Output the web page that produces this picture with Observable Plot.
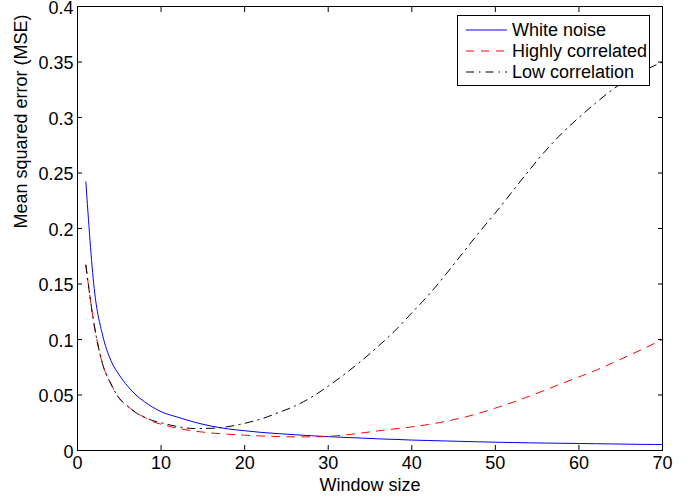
<!DOCTYPE html>
<html>
<head>
<meta charset="utf-8">
<script src="https://cdn.jsdelivr.net/npm/d3@7"></script>
<script src="https://cdn.jsdelivr.net/npm/@observablehq/plot@0.6"></script>
<style>
  body { margin: 0; background: #fff; }
  #wrap { position: relative; width: 697px; height: 502px; font-family: "Liberation Sans", Arial, Helvetica, sans-serif; }
  #legend { position: absolute; left: 457px; top: 15px; width: 191px; height: 69px; border: 1px solid #000; background: #fff; font-size: 18px; color: #000; }
  #legend .row { position: absolute; left: 0; height: 20px; display: flex; align-items: center; }
  #legend svg { margin-left: 8px; margin-right: 5px; }
</style>
</head>
<body>
<div id="wrap">
  <div id="chart"></div>
  <div id="legend"></div>
</div>
<script>
// ---- data ----
const windowSize = [1,2,3,4,5,6,7,8,9,10,12,14,16,18,20,22,24,26,28,30,32,34,36,38,40,42,44,46,48,50,52,54,56,58,60,62,64,66,68,70];
const whiteNoise = [0.242,0.146,0.104,0.081,0.068,0.058,0.050,0.044,0.039,0.035,0.030,0.0255,0.022,0.0195,0.0178,0.0163,0.0152,0.0142,0.0133,0.0125,0.0118,0.0112,0.0105,0.0100,0.0094,0.0090,0.0086,0.0082,0.0078,0.0075,0.0072,0.0069,0.0067,0.0065,0.0063,0.0061,0.0059,0.0057,0.0055,0.0054];
const highlyCorrelated = [0.167,0.113,0.078,0.060,0.047,0.040,0.034,0.030,0.026,0.0237,0.020,0.0175,0.0158,0.0147,0.0138,0.0131,0.0126,0.0123,0.0123,0.0127,0.0140,0.0158,0.0177,0.0195,0.0213,0.0234,0.0262,0.0294,0.0335,0.0382,0.0432,0.0487,0.0545,0.0605,0.0663,0.0722,0.0788,0.0857,0.0927,0.100];
const lowCorrelation = [0.167,0.113,0.078,0.060,0.047,0.040,0.034,0.030,0.027,0.025,0.0215,0.0198,0.0200,0.0215,0.0245,0.0285,0.034,0.040,0.048,0.058,0.069,0.081,0.094,0.108,0.124,0.140,0.158,0.177,0.196,0.214,0.233,0.252,0.270,0.286,0.300,0.313,0.325,0.335,0.343,0.350];
const seriesNames = ["White noise", "Highly correlated", "Low correlation"];
const xTicks = [0,10,20,30,40,50,60,70];
const yTicks = [0,0.05,0.1,0.15,0.2,0.25,0.3,0.35,0.4];
const xLabel = "Window size";
const yLabel = "Mean squared error (MSE)";

const styles = [
  {stroke: "#0000ff", dash: null},
  {stroke: "#ff0000", dash: "8,7"},
  {stroke: "#000000", dash: "8,5,1.5,5"}
];
const seriesValues = [whiteNoise, highlyCorrelated, lowCorrelation];
const tables = seriesValues.map(vals => windowSize.map((w, i) => ({w, v: vals[i]})));

const chart = Plot.plot({
  width: 697,
  height: 502,
  marginLeft: 77,
  marginRight: 35,
  marginTop: 6,
  marginBottom: 52,
  style: {fontSize: "18px", fontFamily: "'Liberation Sans', Arial, Helvetica, sans-serif", color: "#000", background: "#fff"},
  x: {domain: [0, 70]},
  y: {domain: [0, 0.4]},
  marks: [
    Plot.axisX({anchor: "bottom", ticks: xTicks, tickSize: -5, tickPadding: 11, tickFormat: d => String(d), label: null}),
    Plot.axisX({anchor: "top", ticks: xTicks, tickSize: -5, tickFormat: () => "", label: null}),
    Plot.axisY({anchor: "left", ticks: yTicks, tickSize: -5, tickFormat: () => "", label: null}),
    Plot.axisY({anchor: "left", ticks: yTicks, tickSize: 0, tickPadding: 4, dy: 1.5, tickFormat: d => String(d), label: null}),
    Plot.axisY({anchor: "right", ticks: yTicks, tickSize: -5, tickFormat: () => "", label: null}),
    ...tables.map((t, i) => Plot.line(t, {x: "w", y: "v", stroke: styles[i].stroke, strokeWidth: 1, strokeDasharray: styles[i].dash, curve: "monotone-x"})),
    Plot.frame({stroke: "#000", strokeWidth: 1}),
    Plot.text([xLabel], {frameAnchor: "bottom", dy: 40, fontSize: 18, fill: "#000"}),
    Plot.text([yLabel], {frameAnchor: "left", dx: -56, rotate: -90, fontSize: 18, fill: "#000"})
  ]
});
document.getElementById("chart").appendChild(chart);

// legend
const legend = document.getElementById("legend");
const rowTops = [4, 25, 46];
seriesNames.forEach((name, i) => {
  const row = document.createElement("div");
  row.className = "row";
  row.style.top = rowTops[i] + "px";
  const ns = "http://www.w3.org/2000/svg";
  const svg = document.createElementNS(ns, "svg");
  svg.setAttribute("width", 41);
  svg.setAttribute("height", 20);
  const ln = document.createElementNS(ns, "line");
  ln.setAttribute("x1", 0); ln.setAttribute("x2", 41);
  ln.setAttribute("y1", 10); ln.setAttribute("y2", 10);
  ln.setAttribute("stroke", styles[i].stroke);
  ln.setAttribute("stroke-width", 1);
  if (styles[i].dash) ln.setAttribute("stroke-dasharray", styles[i].dash);
  svg.appendChild(ln);
  row.appendChild(svg);
  const span = document.createElement("span");
  span.textContent = name;
  row.appendChild(span);
  legend.appendChild(row);
});
</script>
</body>
</html>
